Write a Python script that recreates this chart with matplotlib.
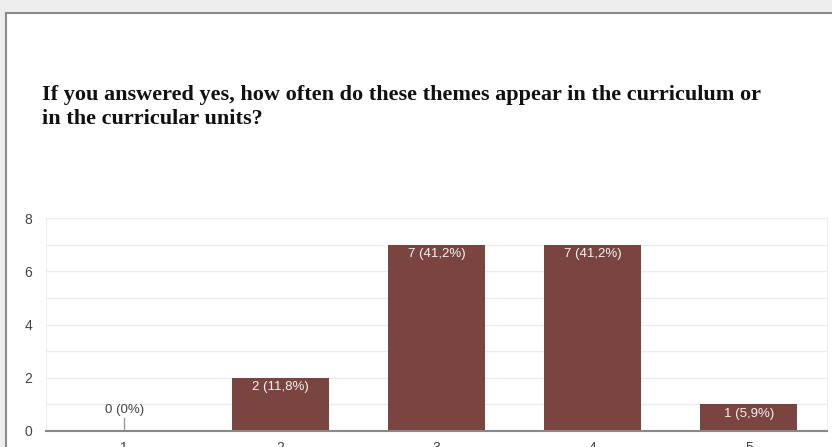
import numpy as np
import matplotlib.pyplot as plt
from matplotlib.patches import Rectangle

categories = ["1", "2", "3", "4", "5"]
counts = [0, 2, 7, 7, 1]
percents = ["0%", "11,8%", "41,2%", "41,2%", "5,9%"]

title = ("If you answered yes, how often do these themes appear in the curriculum or\n"
         "in the curricular units?")

W, H = 832, 447
fig = plt.figure(figsize=(W / 100, H / 100), dpi=100)
fig.patch.set_facecolor("white")
plt.rcParams["font.family"] = ["Liberation Sans", "DejaVu Sans"]

# grey page edge around the card
fig.add_artist(Rectangle((0, 1 - 12 / H), 1, 12 / H, transform=fig.transFigure,
                         facecolor="#eeeeee", edgecolor="none", zorder=0))
fig.add_artist(Rectangle((0, 0), 5 / W, 1, transform=fig.transFigure,
                         facecolor="#eeeeee", edgecolor="none", zorder=0))
fig.add_artist(plt.Line2D([5.5 / W, 1], [1 - 12.5 / H, 1 - 12.5 / H],
                          transform=fig.transFigure, color="#8a8a8a", lw=1.5))
fig.add_artist(plt.Line2D([5.5 / W, 5.5 / W], [0, 1 - 12.5 / H],
                          transform=fig.transFigure, color="#8a8a8a", lw=1.5))

fig.text(42 / W, 1 - 85 / H, title, ha="left", va="top", fontsize=16,
         fontweight="bold", family="Liberation Serif", color="#111111",
         linespacing=1.3)

ax = fig.add_axes([46 / W, 1 - 431 / H, (827 - 46) / W, (431 - 218) / H])
x = np.arange(len(categories))
bars = ax.bar(x, counts, width=0.62, color="#7a4541", zorder=3)

ax.set_xlim(-0.5, 4.5)
ax.set_ylim(0, 8)
ax.set_yticks([0, 2, 4, 6, 8])
ax.set_yticks(np.arange(0, 9, 1), minor=True)
ax.grid(axis="y", which="both", color="#ececec", lw=1, zorder=0)
ax.set_xticks(x)
ax.set_xticklabels(categories)
ax.tick_params(axis="both", which="both", length=0, labelsize=10, labelcolor="#444444")
ax.tick_params(axis="x", pad=7)
ax.tick_params(axis="y", pad=10)

for side in ["left", "right", "top"]:
    ax.spines[side].set_color("#eeeeee")
ax.spines["bottom"].set_color("#888888")
ax.spines["bottom"].set_linewidth(1.5)
ax.spines["bottom"].set_zorder(4)

for xi, c, p in zip(x, counts, percents):
    label = f"{c} ({p})"
    if c == 0:
        ax.plot([xi, xi], [0, 0.5], color="#999999", lw=1, zorder=4)
        ax.text(xi, 0.55, label, ha="center", va="bottom", fontsize=9.5,
                color="#444444", zorder=5)
    else:
        ax.text(xi, c - 0.12, label, ha="center", va="top", fontsize=9.5,
                color="#f2f2f2", zorder=5)

fig.savefig("out.png", dpi=100)
